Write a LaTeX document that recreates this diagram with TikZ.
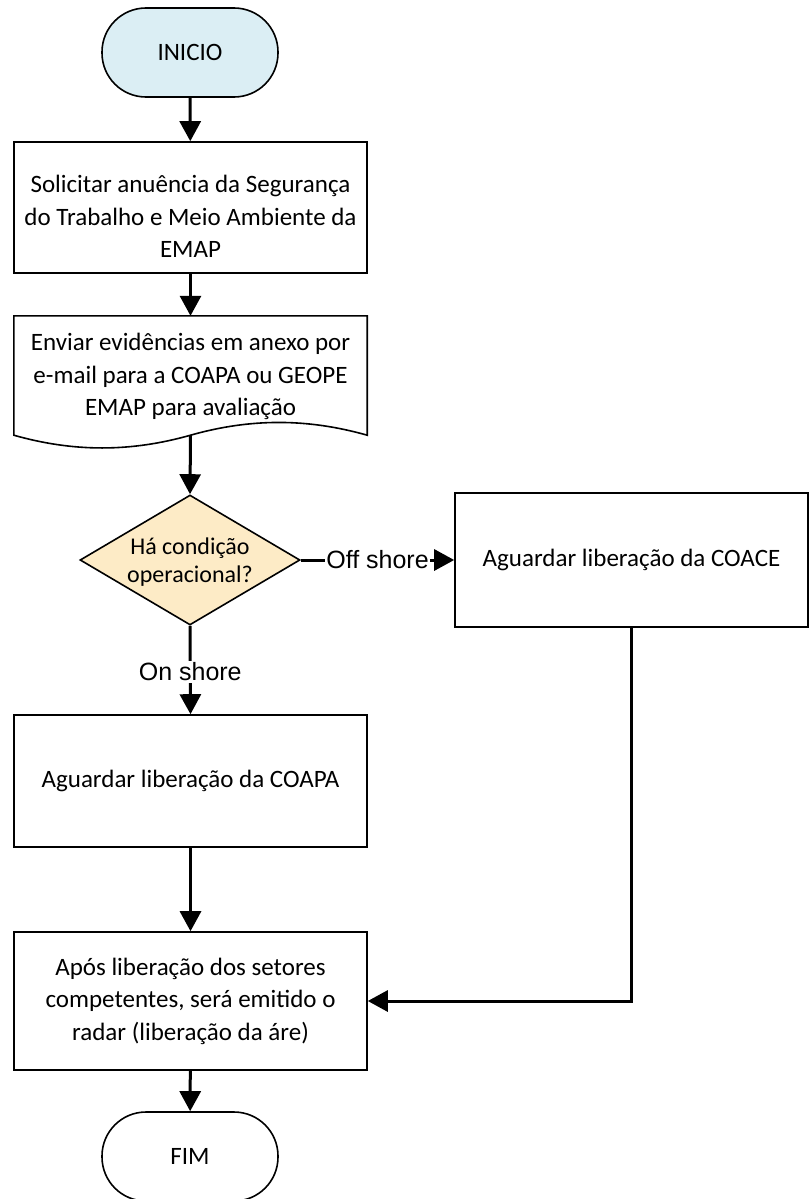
\documentclass[tikz,border=0pt]{standalone}
\usepackage{fontspec}
\setmainfont{Carlito}
\newfontfamily\arialf{Liberation Sans}
\usetikzlibrary{shapes.geometric,arrows.meta}
\definecolor{inicioblue}{HTML}{DBEEF4}
\definecolor{decfill}{HTML}{FDEBC6}
\begin{document}
\begin{tikzpicture}[x=1pt,y=1pt,
  txt/.style={font=\fontsize{25}{32.5}\selectfont, align=center},
  box/.style={txt, draw, line width=1.6pt, rectangle, minimum width=353pt, inner sep=0pt},
  term/.style={txt, draw, line width=1.6pt, rectangle, rounded corners=44pt, minimum width=176pt, minimum height=89pt, inner sep=0pt},
  conn/.style={line width=3pt, -{Triangle[length=20pt,width=21pt]}},
  lbl/.style={font=\arialf\fontsize{25}{30}\selectfont, fill=white, inner sep=1.5pt}
]
\useasboundingbox (0,0) rectangle (809,-1199);

\node[term, fill=inicioblue] (inicio) at (190,-52.5) {INICIO};
\node[box, minimum height=131pt] (solic) at (190.5,-207.5) {};
\node[txt, inner sep=0pt] (solictext) at ([yshift=-9pt]solic.center)
  {Solicitar anuência da Segurança\\do Trabalho e Meio Ambiente da\\EMAP};
\node[inner sep=0pt, minimum width=353pt, minimum height=119pt] (doc) at (190.5,-375.5) {};
\node[txt, inner sep=0pt] (doctext) at ([yshift=-1pt]doc.center)
  {Enviar evidências em anexo por\\e-mail para a COAPA ou GEOPE\\EMAP para avaliação};
\draw[line width=1.6pt] (doc.south west) -- (doc.north west) -- (doc.north east) -- (doc.south east)
  .. controls +(-60,17) and +(60,17) .. (doc.south)
  .. controls +(-60,-17) and +(60,-17) .. (doc.south west) -- cycle;

\node[draw, diamond, fill=decfill, line width=1.6pt, minimum width=220pt, minimum height=130pt, inner sep=0pt] (dec) at (190,-560) {};
\node[font=\fontsize{24}{28}\selectfont, align=center] (dectext) at ([yshift=-2pt]dec.center) {Há condição\\operacional?};

\node[box, minimum width=353pt, minimum height=134pt] (coace) at (631.5,-560) {Aguardar liberação da COACE};
\node[box, minimum height=132pt] (coapa) at (190.5,-781) {Aguardar liberação da COAPA};
\node[box, minimum height=138pt] (final) at (190.5,-1001)
  {Após liberação dos setores\\competentes, será emitido o\\radar (liberação da áre)};
\node[term] (fim) at (190,-1156.5) {FIM};

\draw[conn] (inicio) -- (solic);
\draw[conn] (solic) -- (doc.north);
\draw[conn] (doc.south) -- (dec.north);
\draw[conn] (dec.east) -- node[lbl] (offlbl) {Off shore} (coace.west);
\draw[conn] (dec.south) -- node[lbl, yshift=-2pt] (onlbl) {On shore} (coapa.north);
\draw[conn] (coapa) -- (final);
\draw[conn] (coace.south) |- (final.east);
\draw[conn] (final) -- (fim);
\end{tikzpicture}
\end{document}
